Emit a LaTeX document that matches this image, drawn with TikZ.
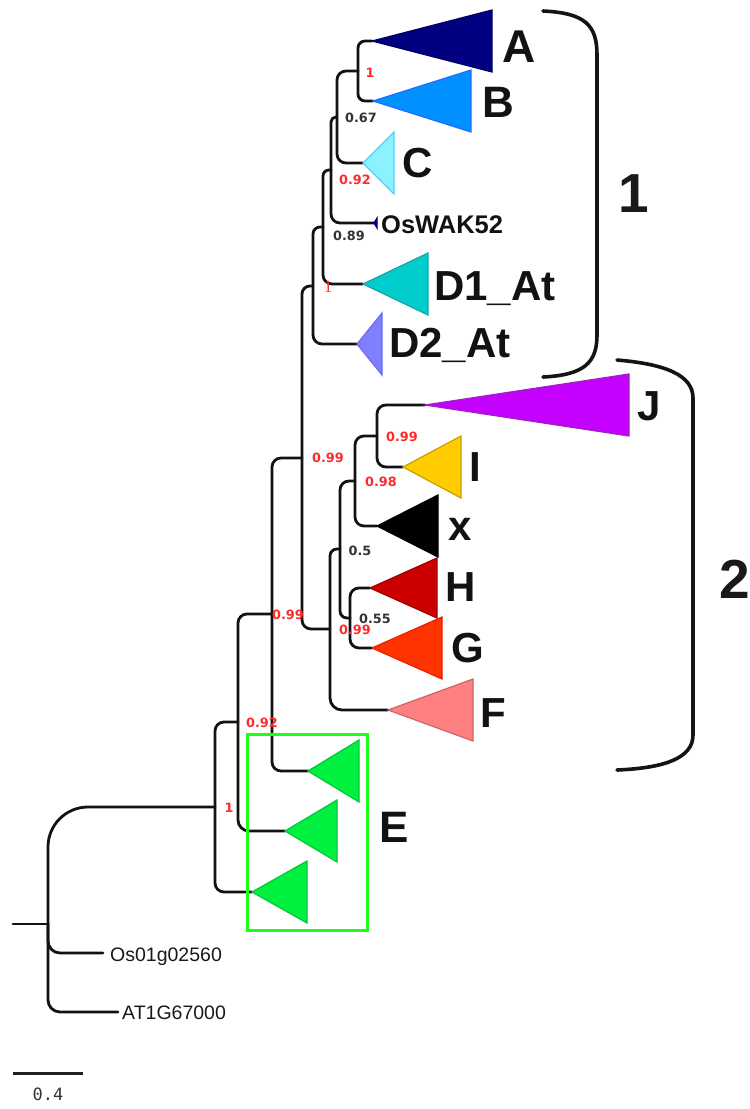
\documentclass[tikz,border=0pt]{standalone}
\usepackage{fontspec}
\setmainfont{Liberation Sans}
\newfontfamily\supfont{DejaVu Sans}
\newfontfamily\monofnt{DejaVu Sans Mono}
\newfontfamily\serfnt{Liberation Serif}
\definecolor{suptxt}{HTML}{333333}
\definecolor{supred}{HTML}{FF2A2A}
\definecolor{cA}{HTML}{000080}\definecolor{cAe}{HTML}{000066}
\definecolor{cB}{HTML}{0090FF}\definecolor{cBe}{HTML}{1E6EFF}
\definecolor{cC}{HTML}{8CF2FF}\definecolor{cCe}{HTML}{55CCFF}
\definecolor{cD}{HTML}{00CCCC}\definecolor{cDe}{HTML}{1AA5A5}
\definecolor{cDD}{HTML}{8080FF}\definecolor{cDDe}{HTML}{6A6AF0}
\definecolor{cJ}{HTML}{C400FF}\definecolor{cJe}{HTML}{A020C0}
\definecolor{cI}{HTML}{FFCC00}\definecolor{cIe}{HTML}{C8A000}
\definecolor{cH}{HTML}{CC0000}\definecolor{cHe}{HTML}{A00000}
\definecolor{cG}{HTML}{FF3300}\definecolor{cGe}{HTML}{E82000}
\definecolor{cF}{HTML}{FF8080}\definecolor{cFe}{HTML}{CC6666}
\definecolor{cE}{HTML}{00F040}\definecolor{cEe}{HTML}{00C838}
\definecolor{boxgreen}{HTML}{19FF19}
\begin{document}
\begin{tikzpicture}[x=1pt,y=-1pt,
  br/.style={line width=2.8pt, rounded corners=#1, line cap=round, draw=black!93},
  br/.default=9,
  tri/.style 2 args={fill=#1, draw=#2, line width=1.2pt, line join=miter},
  sup/.style={text=suptxt, font=\supfont\bfseries\fontsize{12.8}{13}\selectfont, inner sep=0pt, anchor=center},
  supr/.style={sup, text=supred},
  tiplab/.style={anchor=base west, inner sep=0pt, text=black!93, font=\bfseries\fontsize{42}{42}\selectfont},
  leaflab/.style={anchor=base west, inner sep=0pt, text=black!90, font=\fontsize{19.5}{20}\selectfont},
  brace/.style={line width=3.6pt, draw=black!92, line cap=round},
  grplab/.style={anchor=base west, inner sep=0pt, text=black!90, font=\bfseries\fontsize{55}{55}\selectfont}
]
\useasboundingbox (0,0) rectangle (750,1109);
% internal nodes
\coordinate (stub) at (13,924);
\coordinate (root) at (48,924);
\coordinate (n1) at (215,807);
\coordinate (n2) at (238,722);
\coordinate (n3) at (272,614);
\coordinate (n4) at (302,458);
\coordinate (n5) at (313,286);
\coordinate (n6) at (323,227);
\coordinate (n7) at (331,170);
\coordinate (n8) at (337,117);
\coordinate (nAB) at (358,71);
\coordinate (n9) at (330,629);
\coordinate (n10) at (340,549);
\coordinate (n11) at (355,481);
\coordinate (nJI) at (377,436);
\coordinate (nHG) at (350,618);
% tips
\coordinate (tOs) at (103,953);
\coordinate (tAT) at (118,1012);
\coordinate (tA) at (372,41);
\coordinate (tB) at (373,101);
\coordinate (tC) at (363,163);
\coordinate (tW) at (374,223);
\coordinate (tD1) at (363,284);
\coordinate (tD2) at (357,344);
\coordinate (tJ) at (425,405);
\coordinate (tI) at (403,467);
\coordinate (tX) at (377,526);
\coordinate (tH) at (370,588);
\coordinate (tG) at (372,648);
\coordinate (tF) at (388,710);
\coordinate (tE1) at (308,771);
\coordinate (tE2) at (285,831);
\coordinate (tE3) at (252,892);

% branches
\draw[br] (stub) -- (root);
\draw[br=40] (root) |- (n1);
\draw[br=12] (root) |- (tOs);
\draw[br=12] (root) |- (tAT);
\draw[br] (n1) |- (n2);
\draw[br] (n1) |- (tE3);
\draw[br] (n2) |- (n3);
\draw[br=11] (n2) |- (tE2);
\draw[br] (n3) |- (n4);
\draw[br] (n3) |- (tE1);
\draw[br=8] (n4) |- (n5);
\draw[br] (n4) |- (n9);
\draw[br=7] (n5) |- (n6);
\draw[br] (n5) |- (tD2);
\draw[br=6] (n6) |- (n7);
\draw[br] (n6) |- (tD1);
\draw[br=5] (n7) |- (n8);
\draw[br] (n7) |- (tW);
\draw[br] (n8) |- (nAB);
\draw[br] (n8) |- (tC);
\draw[br=7] (nAB) |- (tA);
\draw[br=7] (nAB) |- (tB);
\draw[br=7] (n9) |- (n10);
\draw[br=12] (n9) |- (tF);
\draw[br] (n10) |- (n11);
\draw[br=7] (n10) |- (nHG);
\draw[br] (n11) |- (nJI);
\draw[br] (n11) |- (tX);
\draw[br] (nJI) |- (tJ);
\draw[br] (nJI) |- (tI);
\draw[br] (nHG) |- (tH);
\draw[br] (nHG) |- (tG);

% collapsed clades
\filldraw[tri={cA}{cAe}] (tA) -- ++(120,-31) -- ++(0,62) -- cycle;
\filldraw[tri={cB}{cBe}] (tB) -- ++(98,-31) -- ++(0,62) -- cycle;
\filldraw[tri={cC}{cCe}] (tC) -- ++(31,-31) -- ++(0,62) -- cycle;
\filldraw[tri={cA}{cA}] (tW) -- ++(3,-5) -- ++(0,10) -- cycle;
\filldraw[tri={cD}{cDe}] (tD1) -- ++(65,-31) -- ++(0,62) -- cycle;
\filldraw[tri={cDD}{cDDe}] (tD2) -- ++(25,-31) -- ++(0,62) -- cycle;
\filldraw[tri={cJ}{cJe}] (tJ) -- ++(204,-31) -- ++(0,62) -- cycle;
\filldraw[tri={cI}{cIe}] (tI) -- ++(58,-31) -- ++(0,62) -- cycle;
\filldraw[tri={black}{black}] (tX) -- ++(61,-31) -- ++(0,62) -- cycle;
\filldraw[tri={cH}{cHe}] (tH) -- ++(67,-30) -- ++(0,60) -- cycle;
\filldraw[tri={cG}{cGe}] (tG) -- ++(70,-31) -- ++(0,62) -- cycle;
\filldraw[tri={cF}{cFe}] (tF) -- ++(85,-31) -- ++(0,62) -- cycle;
\filldraw[tri={cE}{cEe}] (tE1) -- ++(51,-31) -- ++(0,62) -- cycle;
\filldraw[tri={cE}{cEe}] (tE2) -- ++(52,-31) -- ++(0,62) -- cycle;
\filldraw[tri={cE}{cEe}] (tE3) -- ++(55,-31) -- ++(0,62) -- cycle;

% green box
\draw[line width=3pt, draw=boxgreen] (247,734) rectangle (367,930);

% support values
\node[supr] (sAB) at (370,73) {1};
\node[sup] (s8) at (361,118) {0.67};
\node[supr] (s7) at (355,180) {0.92};
\node[sup] (s6) at (349,236) {0.89};
\node[supr, font=\serfnt\fontsize{17}{17}\selectfont] (s5) at (328,287) {1};
\node[supr] (s4) at (328,458) {0.99};
\node[supr] (sJI) at (402,437) {0.99};
\node[supr] (s11) at (381,482) {0.98};
\node[sup] (s10) at (360,551) {0.5};
\node[sup] (sHG) at (375,619) {0.55};
\node[supr] (s9) at (355,630) {0.99};
\node[supr] (s3) at (288,615) {0.99};
\node[supr] (s2) at (262,723) {0.92};
\node[supr] (s1) at (229,808) {1};

% tip labels
\node[tiplab, font=\bfseries\fontsize{46}{46}\selectfont] (lA) at (502,62) {A};
\node[tiplab, font=\bfseries\fontsize{44}{44}\selectfont] (lB) at (482,117) {B};
\node[tiplab] (lC) at (402,177) {C};
\node[tiplab, font=\bfseries\fontsize{25.5}{26}\selectfont] (lW) at (381,233) {OsWAK52};
\node[tiplab] (lD1) at (434,300) {D1\_At};
\node[tiplab] (lD2) at (389,357) {D2\_At};
\node[tiplab] (lJ) at (637,420) {J};
\node[tiplab] (lI) at (469,481) {I};
\node[tiplab, font=\bfseries\fontsize{42}{42}\selectfont] (lX) at (448,540) {x};
\node[tiplab] (lH) at (445,601) {H};
\node[tiplab] (lG) at (451,662) {G};
\node[tiplab] (lF) at (480,727) {F};
\node[tiplab, font=\bfseries\fontsize{44}{44}\selectfont] (lE) at (379,842) {E};
\node[leaflab] (lOs) at (110,961) {Os01g02560};
\node[leaflab] (lAT) at (122,1019) {AT1G67000};

% group brackets
\draw[brace] (543,11) .. controls (585,13) and (597,25) .. (597,55) -- (597,335) .. controls (597,362) and (585,375) .. (543,377);
\draw[brace] (617,360) .. controls (665,364) and (693,375) .. (693,398) -- (693,735) .. controls (693,758) and (665,768) .. (617,770);
\node[grplab] (g1) at (618,212) {1};
\node[grplab] (g2) at (719,598) {2};

% scale bar
\draw[line width=3pt, draw=black!88] (13,1073) coordinate (sbL) -- (83,1073) coordinate (sbR);
\node[anchor=base, inner sep=0pt, text=suptxt, font=\monofnt\fontsize{17}{17}\selectfont] (sbl) at (48,1100) {0.4};
\end{tikzpicture}
\end{document}
